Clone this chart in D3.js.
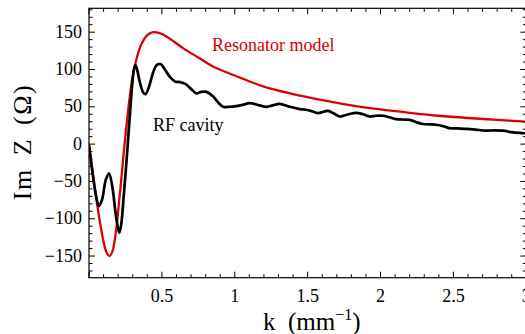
<!DOCTYPE html>
<html>
<head>
<meta charset="utf-8">
<script src="https://cdn.jsdelivr.net/npm/d3@7"></script>
<style>
body { margin: 0; background: #fff; }
text { font-family: "Liberation Serif", "Times New Roman", serif; }
</style>
</head>
<body>
<svg id="chart" width="525" height="334"></svg>
<script>
// resonator model, Im Z vs k
var resonator = [
  [0, 0], [0.02, -30], [0.04, -58], [0.06, -86], [0.08, -110], [0.10, -131],
  [0.12, -145], [0.14, -150], [0.16, -144], [0.18, -124], [0.20, -90], [0.22, -50],
  [0.24, -8], [0.26, 30], [0.28, 64], [0.30, 91], [0.33, 117], [0.36, 134],
  [0.40, 146], [0.44, 150], [0.48, 149], [0.55, 142], [0.65, 128], [0.75, 116],
  [0.85, 104], [1.0, 92], [1.2, 77], [1.4, 67], [1.6, 59], [1.8, 52], [2.0, 46.5],
  [2.2, 42], [2.4, 38], [2.6, 35], [2.8, 32.5], [3.0, 30]
];

// RF cavity, Im Z vs k
var cavity = [
  [0, -2], [0.02, -32], [0.045, -66], [0.068, -83], [0.09, -74], [0.115, -48],
  [0.137, -39], [0.16, -57], [0.185, -96], [0.208, -119], [0.222, -106],
  [0.237, -72], [0.252, -36], [0.266, 0], [0.28, 38], [0.295, 76], [0.308, 100],
  [0.318, 106], [0.33, 100], [0.35, 82], [0.37, 70], [0.388, 67], [0.41, 76],
  [0.44, 96], [0.465, 106], [0.493, 107], [0.52, 100], [0.555, 90], [0.59, 84],
  [0.625, 83], [0.658, 81], [0.70, 74], [0.737, 68], [0.77, 70], [0.805, 70],
  [0.85, 64], [0.89, 55], [0.92, 50], [0.96, 50], [1.01, 51], [1.06, 53],
  [1.1, 55], [1.17, 52], [1.215, 50], [1.26, 52], [1.308, 54], [1.377, 50],
  [1.445, 47], [1.49, 46], [1.53, 44], [1.57, 41.5], [1.64, 44.5], [1.68, 41],
  [1.72, 37], [1.78, 40], [1.834, 42], [1.88, 40], [1.925, 37], [1.97, 38],
  [2.016, 38], [2.06, 36], [2.107, 33.5], [2.15, 33], [2.2, 32.5], [2.25, 29],
  [2.29, 27], [2.34, 26.5], [2.38, 26], [2.43, 24], [2.47, 21.5], [2.53, 21],
  [2.59, 20.5], [2.65, 19.5], [2.72, 18], [2.78, 18.5], [2.84, 18], [2.9, 16],
  [2.95, 15], [3.0, 14.5]
];

var xMajor = [0.5, 1, 1.5, 2, 2.5, 3];
var xLabels = ["0.5", "1", "1.5", "2", "2.5", "3"];
var yMajor = [-150, -100, -50, 0, 50, 100, 150];
var yLabels = ["\u2212150", "\u2212100", "\u221250", "0", "50", "100", "150"];

var serif = "Liberation Serif, Times New Roman, serif";
var svg = d3.select("#chart");
var frameL = 89, frameR = 526.3, frameT = 8.3, frameB = 277.7; // plot box

var x = d3.scaleLinear().domain([0, 3]).range([frameL, frameR]);
var y = d3.scaleLinear().domain([-179, 182]).range([frameB, frameT]);

var xMinor = d3.range(0, 31).map(function(i){ return i / 10; });
var yMinor = d3.range(-17, 19).map(function(i){ return i * 10; });

svg.append("defs").append("clipPath").attr("id", "plot-clip")
  .append("rect")
  .attr("x", frameL).attr("y", frameT)
  .attr("width", frameR - frameL).attr("height", frameB - frameT);

var lineGen = d3.line()
  .x(function(d){ return x(d[0]); })
  .y(function(d){ return y(d[1]); })
  .curve(d3.curveCatmullRom.alpha(0.5));

var plot = svg.append("g").attr("clip-path", "url(#plot-clip)");

plot.append("path")
  .datum(resonator)
  .attr("d", lineGen)
  .attr("fill", "none")
  .attr("stroke", "#dd0000")
  .attr("stroke-width", 2.3);

plot.append("path")
  .datum(cavity)
  .attr("d", lineGen)
  .attr("fill", "none")
  .attr("stroke", "#000")
  .attr("stroke-width", 2.7)
  .attr("stroke-linejoin", "round");

// ticks on all four sides, pointing in
var ticks = svg.append("g").attr("stroke", "#000").attr("stroke-width", 1);
function isMajorX(v){ return Math.abs(v * 2 - Math.round(v * 2)) < 1e-6; }
function isMajorY(v){ return v % 50 === 0; }

xMinor.forEach(function(v){
  var len = isMajorX(v) ? 6 : 3.5;
  ticks.append("line").attr("x1", x(v)).attr("x2", x(v)).attr("y1", frameB).attr("y2", frameB - len);
  ticks.append("line").attr("x1", x(v)).attr("x2", x(v)).attr("y1", frameT).attr("y2", frameT + len);
});
yMinor.forEach(function(v){
  var len = isMajorY(v) ? 6 : 3.5;
  ticks.append("line").attr("x1", frameL).attr("x2", frameL + len).attr("y1", y(v)).attr("y2", y(v));
  ticks.append("line").attr("x1", frameR).attr("x2", frameR - len).attr("y1", y(v)).attr("y2", y(v));
});

// frame
svg.append("rect")
  .attr("x", frameL).attr("y", frameT)
  .attr("width", frameR - frameL).attr("height", frameB - frameT)
  .attr("fill", "none").attr("stroke", "#000").attr("stroke-width", 1.2);

// tick labels
svg.selectAll("text.xlab")
  .data(xMajor)
  .enter()
  .append("text")
  .attr("class", "xlab")
  .attr("x", function(d){ return x(d); })
  .attr("y", 302)
  .attr("text-anchor", "middle")
  .attr("font-family", serif)
  .attr("font-size", 18)
  .text(function(d, i){ return xLabels[i]; });

svg.selectAll("text.ylab")
  .data(yMajor)
  .enter()
  .append("text")
  .attr("class", "ylab")
  .attr("x", 82)
  .attr("y", function(d){ return y(d) + 5.5; })
  .attr("text-anchor", "end")
  .attr("font-family", serif)
  .attr("font-size", 18)
  .text(function(d, i){ return yLabels[i]; });

// axis titles
var xt = svg.append("text")
  .attr("x", 263).attr("y", 330)
  .attr("font-family", serif)
  .attr("font-size", 25)
  .attr("xml:space", "preserve");
xt.append("tspan").text("k  (mm");
xt.append("tspan").attr("font-size", 16).attr("dy", -10).text("\u22121");
xt.append("tspan").attr("dy", 10).text(")");

svg.append("text")
  .attr("transform", "translate(31,142) rotate(-90)")
  .attr("text-anchor", "middle")
  .attr("font-family", serif)
  .attr("font-size", 26)
  .attr("letter-spacing", 1.5)
  .attr("word-spacing", 5)
  .text("Im Z (\u03A9)");

// curve labels
svg.append("text")
  .attr("x", 212).attr("y", 51)
  .attr("font-family", serif)
  .attr("font-size", 18)
  .attr("fill", "#dd0000")
  .text("Resonator model");

svg.append("text")
  .attr("x", 153).attr("y", 131)
  .attr("font-family", serif)
  .attr("font-size", 18)
  .attr("fill", "#000")
  .text("RF cavity");
</script>
</body>
</html>
